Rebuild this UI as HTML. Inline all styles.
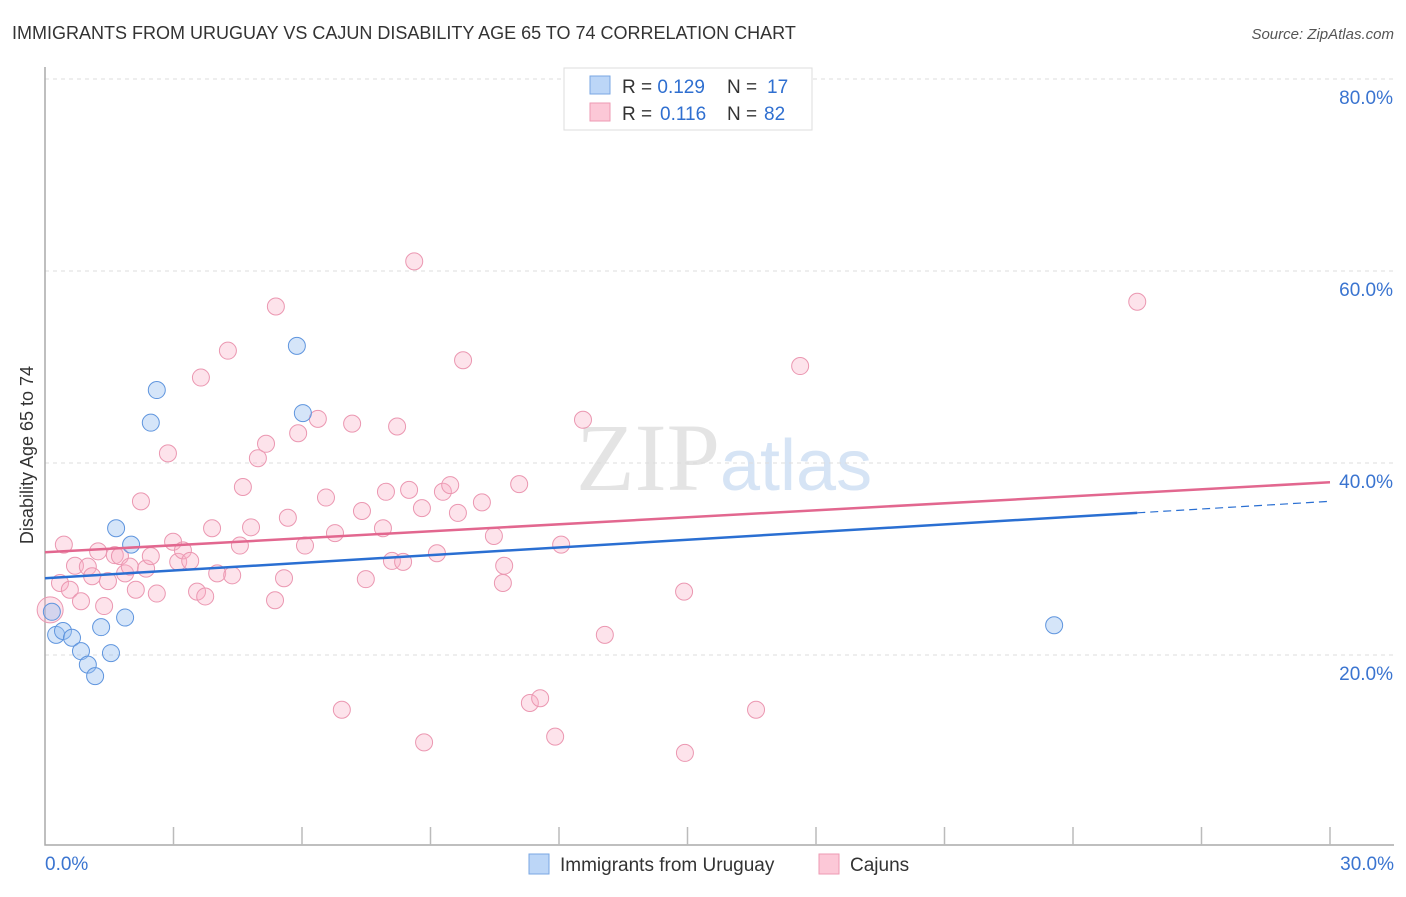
<!DOCTYPE html>
<html><head><meta charset="utf-8"><style>
body{margin:0;background:#fff;font-family:"Liberation Sans",sans-serif}
</style></head><body>
<svg id="c" width="1406" height="892" xmlns="http://www.w3.org/2000/svg">
<text x="12" y="39" font-size="18" fill="#333">IMMIGRANTS FROM URUGUAY VS CAJUN DISABILITY AGE 65 TO 74 CORRELATION CHART</text>
<text x="1394" y="39" font-size="15" fill="#555" font-style="italic" text-anchor="end">Source: ZipAtlas.com</text>
<text x="720" y="490" font-size="96" fill="#e4e4e4" text-anchor="end" font-family="Liberation Serif">ZIP</text>
<text x="720" y="490" font-size="72" fill="#d6e4f5">atlas</text>
<g id="grid"></g>
<g id="axes"></g>
<g id="marks"></g>
<text transform="translate(33,455) rotate(-90)" font-size="18" fill="#333" text-anchor="middle">Disability Age 65 to 74</text>
<g>
<rect x="564" y="68" width="248" height="62" fill="#fff" stroke="#ddd"/>
<rect x="590" y="76" width="20" height="18" fill="#bcd6f7" stroke="#7aa7e3"/>
<rect x="590" y="103" width="20" height="18" fill="#fcc8d7" stroke="#ee9ab3"/>
<text x="622" y="93" font-size="19" fill="#333">R = <tspan fill="#2f6fd0">0.129</tspan><tspan x="727">N = </tspan><tspan x="767" fill="#2f6fd0">17</tspan></text>
<text x="622" y="120" font-size="19" fill="#333">R = <tspan x="660" fill="#2f6fd0">0.116</tspan><tspan x="727">N = </tspan><tspan x="764" fill="#2f6fd0">82</tspan></text>
</g>
<g>
<rect x="529" y="854" width="20" height="20" fill="#bcd6f7" stroke="#7aa7e3"/>
<text x="560" y="871" font-size="19" fill="#333">Immigrants from Uruguay</text>
<rect x="819" y="854" width="20" height="20" fill="#fcc8d7" stroke="#ee9ab3"/>
<text x="850" y="871" font-size="19" fill="#333">Cajuns</text>
</g>
</svg>
<script>
const blueX=[0.16,0.26,0.42,0.63,0.84,1.0,1.17,1.31,1.54,1.66,1.87,2.01,2.47,2.61,5.88,6.02,23.56];
const blueY=[24.5,22.1,22.5,21.8,20.4,19.0,17.8,22.9,20.2,33.2,23.9,31.5,44.2,47.6,52.2,45.2,23.1];
const pinkX=[0.12,0.44,0.35,0.58,0.70,0.84,1.00,1.10,1.24,1.38,1.47,1.63,1.75,1.87,1.98,2.12,2.24,2.36,2.47,2.61,2.87,2.99,3.11,3.22,3.39,3.55,3.64,3.74,3.90,4.02,4.27,4.37,4.55,4.62,4.81,4.97,5.16,5.37,5.39,5.58,5.67,5.91,6.07,6.37,6.56,6.77,6.93,7.17,7.40,7.49,7.89,7.96,8.10,8.22,8.36,8.50,8.62,8.80,8.85,9.15,9.29,9.46,9.64,9.76,10.20,10.48,10.69,10.72,11.07,11.32,11.56,11.91,12.05,12.56,13.07,14.92,14.94,16.60,17.63,25.50];
const pinkY=[24.7,31.5,27.5,26.8,29.3,25.6,29.2,28.2,30.8,25.1,27.7,30.4,30.3,28.5,29.2,26.8,36.0,29.0,30.3,26.4,41.0,31.8,29.7,30.9,29.8,26.6,48.9,26.1,33.2,28.5,51.7,28.3,31.4,37.5,33.3,40.5,42.0,25.7,56.3,28.0,34.3,43.1,31.4,44.6,36.4,32.7,14.3,44.1,35.0,27.9,33.2,37.0,29.8,43.8,29.7,37.2,61.0,35.3,10.9,30.6,37.0,37.7,34.8,50.7,35.9,32.4,27.5,29.3,37.8,15.0,15.5,11.5,31.5,44.5,22.1,26.6,9.8,14.3,50.1,56.8];
const yTicks=[20,40,60,80];
const yTickLabels=["20.0%","40.0%","60.0%","80.0%"];
const xTicks=[0,3,6,9,12,15,18,21,24,27,30];
const trendBlue=[28.0,0.267];const trendPink=[30.7,0.243];
const blueSolidEnd=25.5;
const NS="http://www.w3.org/2000/svg";
const sx=v=>45+v*(1285/30), sy=v=>847-v*9.6;
function mk(p,t,a){const e=document.createElementNS(NS,t);for(const k in a)e.setAttribute(k,a[k]);document.getElementById(p).appendChild(e);return e;}
yTicks.forEach((t,i)=>{
 const l=mk('grid','line',{x1:45,x2:1394,y1:sy(t),y2:sy(t),stroke:'#ddd','stroke-dasharray':'4,4'});
 
 
 const tx=mk('grid','text',{x:1393,y:sy(t)+25,'font-size':19,fill:'#3a74d0','text-anchor':'end'});tx.textContent=yTickLabels[i];
 
 
});
mk('grid','line',{x1:45,x2:1394,y1:79,y2:79,stroke:'#ddd','stroke-dasharray':'4,4'});
const ax=mk('axes','path',{d:'M45,67V845H1394',fill:'none',stroke:'#aaa','stroke-width':1.5});


xTicks.slice(1).forEach(t=>{const l=mk('axes','line',{x1:sx(t),x2:sx(t),y1:827,y2:845,stroke:'#bbb','stroke-width':1.5});
 
 });
const x0=mk('axes','text',{x:45,y:870,'font-size':19,fill:'#3a74d0'});x0.textContent='0.0%';


const x1=mk('axes','text',{x:1394,y:870,'font-size':19,fill:'#3a74d0','text-anchor':'end'});x1.textContent='30.0%';


pinkX.forEach((x,i)=>{const c=mk('marks','circle',{cx:sx(x),cy:sy(pinkY[i]),r:i==0?13:8.5,fill:'rgba(248,175,198,0.35)',stroke:'#eb97b1','stroke-width':1});
 
 });
blueX.forEach((x,i)=>{const c=mk('marks','circle',{cx:sx(x),cy:sy(blueY[i]),r:8.5,fill:'rgba(150,190,240,0.4)',stroke:'#5f95de','stroke-width':1});
 
 });
const tp=mk('marks','line',{x1:sx(0),y1:sy(trendPink[0]),x2:sx(30),y2:sy(trendPink[0]+trendPink[1]*30),stroke:'#e2678f','stroke-width':2.5});


const tb=mk('marks','line',{x1:sx(0),y1:sy(trendBlue[0]),x2:sx(blueSolidEnd),y2:sy(trendBlue[0]+trendBlue[1]*blueSolidEnd),stroke:'#2a6fd2','stroke-width':2.5});


const td=mk('marks','line',{x1:sx(blueSolidEnd),y1:sy(trendBlue[0]+trendBlue[1]*blueSolidEnd),x2:sx(30),y2:sy(trendBlue[0]+trendBlue[1]*30),stroke:'#2a6fd2','stroke-width':1.2,'stroke-dasharray':'8,5'});


</script>
</body></html>
